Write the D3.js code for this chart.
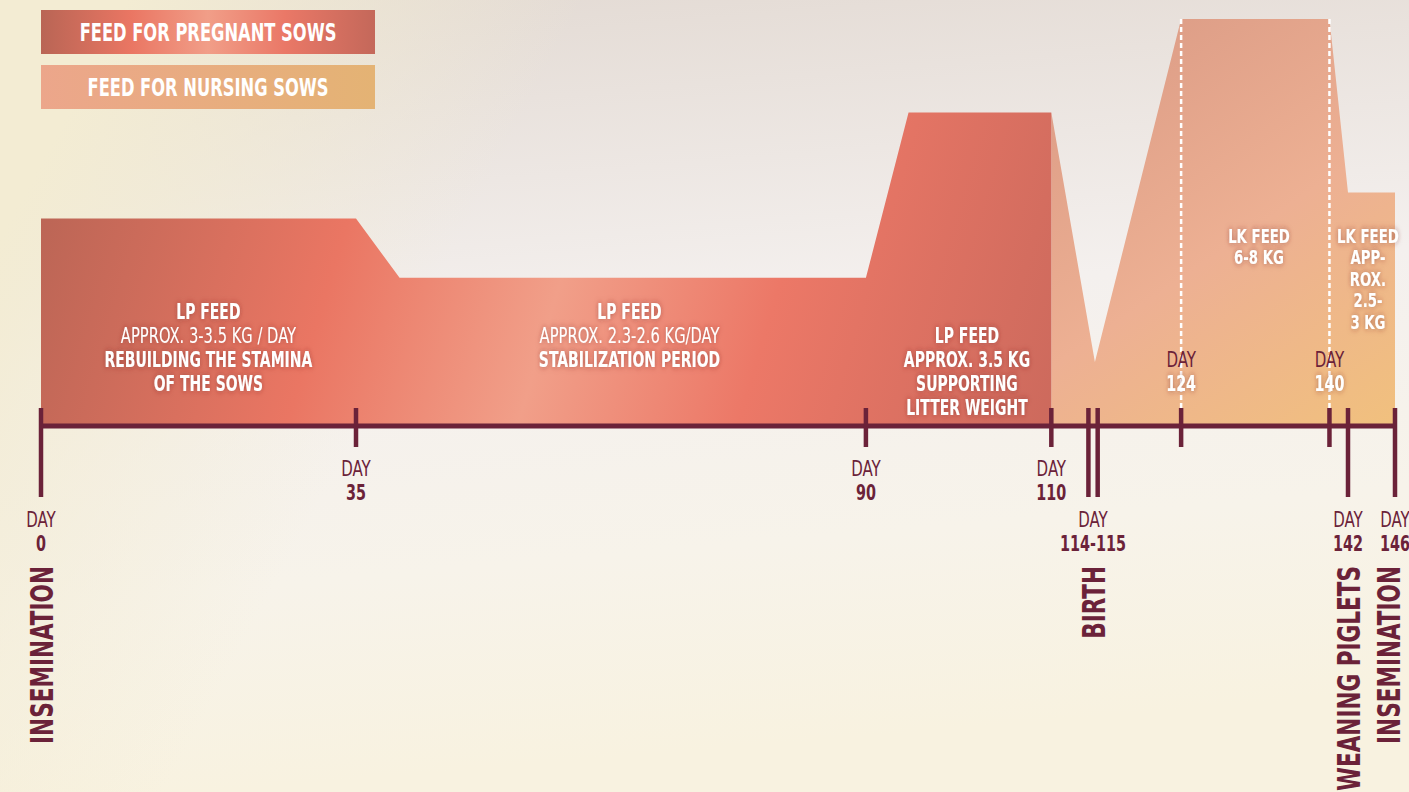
<!DOCTYPE html>
<html>
<head>
<meta charset="utf-8">
<script src="https://cdn.jsdelivr.net/npm/d3@7"></script>
<style>
  html, body { margin: 0; padding: 0; overflow: hidden; background: #f5f0e6; }
  text { font-family: "Liberation Sans Narrow", "DejaVu Sans Condensed", "Arial Narrow", sans-serif; }
</style>
</head>
<body>
<div id="chart"></div>
<script>
// feed plan over one sow cycle (days since insemination)

// relative feed level (0-100) at each corner of the two shapes
const pregnantDays  = [0, 35, 39.7, 90, 94.6, 110];
const pregnantLevel = [51, 51, 36.4, 36.4, 77, 77];
const nursingDays   = [110, 114.7, 124, 140, 142, 146];
const nursingLevel  = [77, 15.7, 100, 100, 57.4, 57.4];

// axis
const tickDays       = [0, 35, 90, 110, 114, 115, 124, 140, 142, 146];
const eventDays      = [0, 114, 115, 142, 146];
const feedChangeDays = [124, 140];

// day labels
const labelDays  = [0, 35, 90, 110, 114.5, 124, 140, 142, 146];
const labelTexts = ["0", "35", "90", "110", "114-115", "124", "140", "142", "146"];

// events written under the axis
const eventLabelDays  = [0, 114.5, 142, 146];
const eventLabelTexts = ["INSEMINATION", "BIRTH", "WEANING PIGLETS", "INSEMINATION"];

const legendTexts = ["FEED FOR PREGNANT SOWS", "FEED FOR NURSING SOWS"];

// notes inside the shapes, each line is [text, bold]
const noteDays   = [18.6, 64.5, 100.9, 132.4, 143.7];
const noteLevels = [26.4, 26.2, 20.3, 45, 45];
const noteLines  = [
  [["LP FEED", 1], ["APPROX. 3-3.5 KG / DAY", 0], ["REBUILDING THE STAMINA", 1], ["OF THE SOWS", 1]],
  [["LP FEED", 1], ["APPROX. 2.3-2.6 KG/DAY", 0], ["STABILIZATION PERIOD", 1]],
  [["LP FEED", 1], ["APPROX. 3.5 KG", 1], ["SUPPORTING", 1], ["LITTER WEIGHT", 1]],
  [["LK FEED", 1], ["6-8 KG", 1]],
  [["LK FEED", 1], ["APP-", 1], ["ROX.", 1], ["2.5-", 1], ["3 KG", 1]]
];

const svgWidth = 1409;
const svgHeight = 792;
const maroon = "#6b2239";

const svg = d3.select("#chart")
  .append("svg")
  .attr("width", svgWidth)
  .attr("height", svgHeight);

const defs = svg.append("defs");

function linearGrad(id, stops, attrs) {
  const g = defs.append("linearGradient").attr("id", id);
  Object.entries(attrs || {}).forEach(([k, v]) => g.attr(k, v));
  stops.forEach(([o, c, op]) => g.append("stop")
    .attr("offset", o).attr("stop-color", c)
    .attr("stop-opacity", op === undefined ? 1 : op));
}

// background
linearGrad("bgV", [[0, "#e2d9d2"], [0.45, "#f4f0ee"], [0.75, "#f7f3ea"], [1, "#f8f2e0"]],
  {x1: 0, y1: 0, x2: 0.15, y2: 1});
linearGrad("bgL", [[0, "#f3ecd3", 1], [0.3, "#f3ecd3", 0]], {x1: 0, y1: 0.3, x2: 1, y2: 0.6});

// shapes
linearGrad("pregGrad", [
  [0, "#ba6555"], [0.29, "#ea7663"], [0.5, "#f19f89"], [0.7, "#ec7867"], [1, "#cb695c"]
], {gradientUnits: "userSpaceOnUse", x1: 41, y1: 180, x2: 1051, y2: 480});
linearGrad("nursGrad", [
  [0, "#dc9c86"], [0.5, "#edb093"], [1, "#f1c17d"]
], {gradientUnits: "userSpaceOnUse", x1: 1120, y1: 20, x2: 1400, y2: 430});

// legend
linearGrad("legPreg", [
  [0, "#b96555"], [0.27, "#ea7663"], [0.5, "#f19e88"], [0.73, "#ea7867"], [1, "#c4685a"]
]);
linearGrad("legNurs", [[0, "#eca68b"], [1, "#e4b374"]]);

// soft dark glow behind white text
const glow = defs.append("filter").attr("id", "glow")
  .attr("x", "-20%").attr("y", "-40%").attr("width", "140%").attr("height", "180%");
glow.append("feDropShadow").attr("dx", 0).attr("dy", 0)
  .attr("stdDeviation", 3).attr("flood-color", "#7a2a2a").attr("flood-opacity", 0.55);

svg.append("rect").attr("width", svgWidth).attr("height", svgHeight).attr("fill", "url(#bgV)");
svg.append("rect").attr("width", svgWidth).attr("height", svgHeight).attr("fill", "url(#bgL)");

// scales
const xScale = d3.scaleLinear()
  .domain([0, 35, 142, 146])
  .range([41, 356, 1348, 1395]);

const yScale = d3.scaleLinear()
  .domain([0, 100])
  .range([426, 19]);

const baseY = yScale(0);

const area = d3.area()
  .x(d => xScale(d[0]))
  .y0(baseY)
  .y1(d => yScale(d[1]));

svg.append("path")
  .datum(d3.zip(nursingDays, nursingLevel))
  .attr("d", area)
  .attr("fill", "url(#nursGrad)");

svg.append("path")
  .datum(d3.zip(pregnantDays, pregnantLevel))
  .attr("d", area)
  .attr("fill", "url(#pregGrad)");

// dashed lines where the lactation feed changes
svg.selectAll(".dash")
  .data(feedChangeDays)
  .join("line")
  .attr("x1", d => xScale(d)).attr("x2", d => xScale(d))
  .attr("y1", yScale(100)).attr("y2", baseY - 18)
  .attr("stroke", "#fff")
  .attr("stroke-width", 2.5)
  .attr("stroke-dasharray", "5,3");

// text helper: condensed look through a horizontal scale
function addText(parent, x, y, str, o) {
  return parent.append("text")
    .attr("transform", `translate(${x},${y})${o.rotate ? ` rotate(${o.rotate})` : ""} scale(${o.sx || 1},1)`)
    .attr("text-anchor", o.anchor || "middle")
    .attr("font-size", o.size)
    .attr("font-weight", o.bold ? "bold" : "normal")
    .attr("fill", o.fill || maroon)
    .attr("filter", o.glow ? "url(#glow)" : null)
    .text(str);
}

// notes
noteLines.forEach((lines, i) => {
  const small = lines[0][0] === "LK FEED";
  const lh = small ? 21.5 : 24;
  const g = svg.append("g");
  lines.forEach(([t, b], j) => {
    addText(g, xScale(noteDays[i]), yScale(noteLevels[i]) + j * lh, t,
      {size: small ? 20 : 21, bold: b, fill: "#fff", sx: b ? 0.74 : 0.78, glow: true});
  });
});

// axis line and ticks
svg.append("line")
  .attr("x1", xScale(0) - 2).attr("x2", xScale(146) + 2)
  .attr("y1", baseY).attr("y2", baseY)
  .attr("stroke", maroon).attr("stroke-width", 5);

svg.selectAll(".tick")
  .data(tickDays)
  .join("line")
  .attr("x1", d => xScale(d)).attr("x2", d => xScale(d))
  .attr("y1", baseY - 18)
  .attr("y2", d => eventDays.includes(d) ? baseY + 71 : baseY + 21)
  .attr("stroke", maroon).attr("stroke-width", 4.5);

// day labels
labelDays.forEach((d, i) => {
  let y1, numFill = maroon, numGlow = false;
  if (feedChangeDays.includes(d)) { y1 = baseY - 59; numFill = "#fff"; numGlow = true; }
  else if (eventLabelDays.includes(d)) y1 = baseY + 101;
  else y1 = baseY + 50;
  addText(svg, xScale(d), y1, "DAY", {size: 22, sx: 0.76});
  addText(svg, xScale(d), y1 + 24, labelTexts[i], {size: 21, bold: true, fill: numFill, glow: numGlow, sx: 0.76});
});

// event names, vertical (kept inside the right edge)
eventLabelDays.forEach((d, i) => {
  addText(svg, Math.min(xScale(d) + 11.5, svgWidth - 9), baseY + 140, eventLabelTexts[i],
    {size: 32, bold: true, anchor: "end", rotate: -90, sx: 0.75});
});

// legend
legendTexts.forEach((t, i) => {
  const y = 10 + i * 55;
  svg.append("rect")
    .attr("x", 41).attr("y", y)
    .attr("width", 334).attr("height", 44)
    .attr("fill", i === 0 ? "url(#legPreg)" : "url(#legNurs)");
  addText(svg, 208, y + 31, t, {size: 24, bold: true, fill: "#fff", sx: 0.755});
});
</script>
</body>
</html>
